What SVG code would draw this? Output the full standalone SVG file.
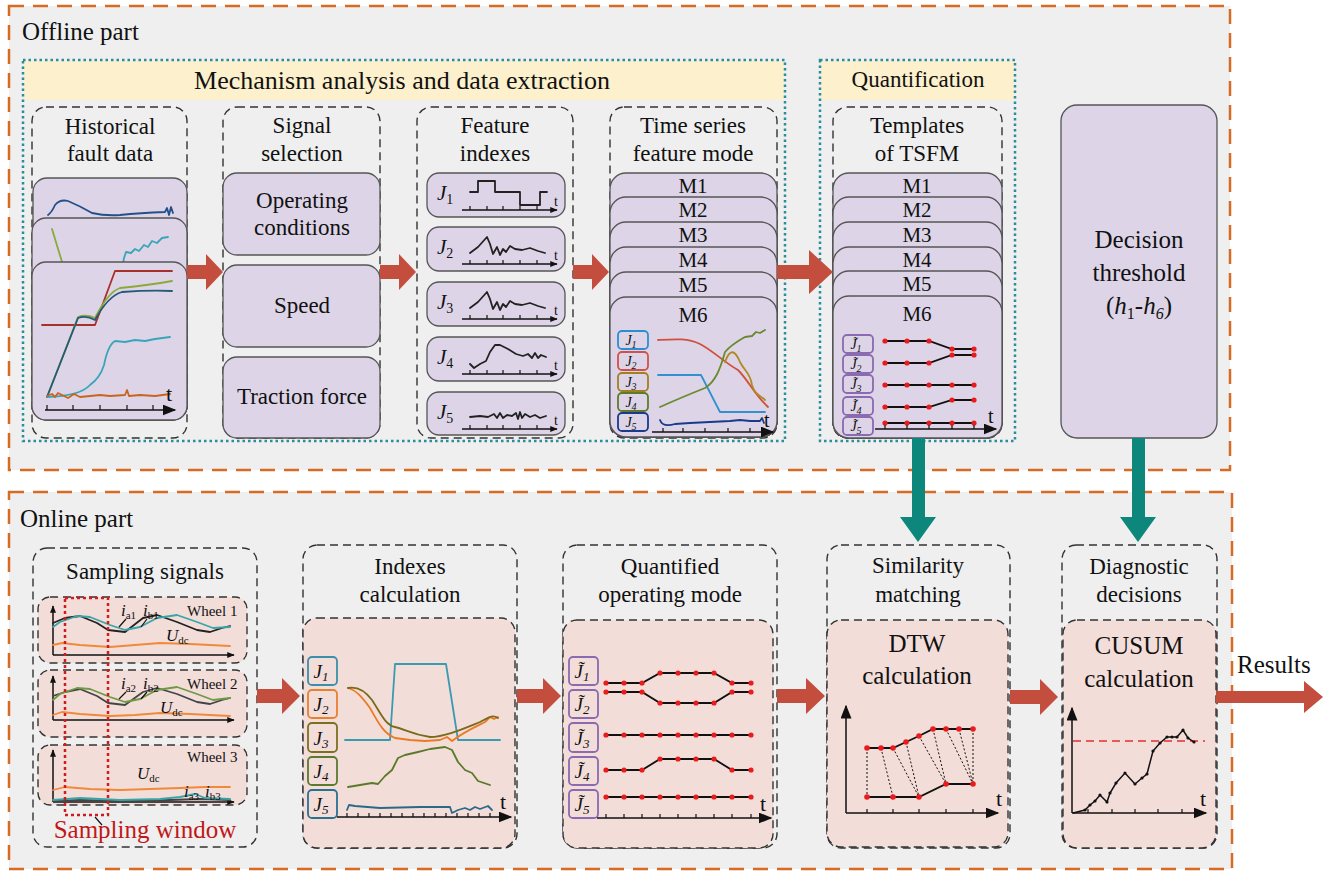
<svg xmlns="http://www.w3.org/2000/svg" width="1330" height="875" viewBox="0 0 1330 875">
<defs>
<style>
.part{fill:#efefef;stroke:#d56b25;stroke-width:2.5;stroke-dasharray:15 9}
.tdot{fill:none;stroke:#2b8c9a;stroke-width:2.5;stroke-dasharray:2.5 3}
.hdr{fill:#fdf0cc}
.dsh{fill:none;stroke:#333;stroke-width:1.4;stroke-dasharray:8 5}
.pur{fill:#ddd5e7;stroke:#555;stroke-width:1.3}
.pink{fill:#f3ddd9;stroke:#333;stroke-width:1.4;stroke-dasharray:8 5}
.tx{font-family:"Liberation Serif","Times New Roman",serif;fill:#111;text-anchor:middle}
.tl{font-family:"Liberation Serif","Times New Roman",serif;fill:#111}
.it{font-style:italic}
.arr{fill:#c44e3e}
.tarr{fill:#0d877c}
.ax{stroke:#111;stroke-width:1.5;fill:none}
.tk{stroke:#111;stroke-width:1.2;fill:none}
.dot{fill:#e81c1c}
.ln{fill:none;stroke-width:1.8;stroke-linejoin:round;stroke-linecap:round}
.blk{fill:none;stroke:#111;stroke-width:1.8}
.lb{fill:none;stroke-width:1.8}
.dl{fill:none;stroke:#111;stroke-width:1;stroke-dasharray:2 2}
</style>
<marker id="ah" viewBox="0 0 10 8" refX="9" refY="4" markerWidth="14" markerHeight="11" markerUnits="userSpaceOnUse" orient="auto"><path d="M0,0 L10,4 L0,8 z" fill="#111"/></marker>
<marker id="ahs" viewBox="0 0 10 8" refX="9" refY="4" markerWidth="8" markerHeight="6" markerUnits="userSpaceOnUse" orient="auto"><path d="M0,0 L10,4 L0,8 z" fill="#111"/></marker>
</defs>
<rect width="1330" height="875" fill="#ffffff"/>

<!-- Offline part -->
<g id="offline-part">
<rect class="part" x="9" y="6" width="1221" height="464"/>
<text class="tl" x="22" y="40" font-size="25">Offline part</text>
</g>
<g id="mechanism-group">
<rect class="hdr" x="24" y="61" width="760" height="39"/>
<rect class="tdot" x="23" y="60" width="762" height="381"/>
<text class="tx" x="402" y="89" font-size="26">Mechanism analysis and data extraction</text>
</g>
<g id="quantification-group">
<rect class="hdr" x="821" y="61" width="193" height="39"/>
<rect class="tdot" x="820" y="60" width="195" height="381"/>
<text class="tx" x="918" y="87" font-size="23">Quantification</text>
</g>

<g id="historical-fault-data">
<rect class="dsh" x="32" y="107" width="155" height="331" rx="14"/>
<text class="tx" x="110" y="134" font-size="23">Historical</text>
<text class="tx" x="110" y="161" font-size="23">fault data</text>
<rect class="pur" x="33" y="178" width="154" height="242" rx="14"/>
<path class="ln" stroke="#24508a" d="M48,215 Q52,212 55,205 Q60,199 68,201 Q80,206 92,213 Q105,216 120,215 Q140,213 165,212 L167,208 L169,215 L171,207 L173,213"/>
<rect class="pur" x="32" y="218" width="155" height="202" rx="14"/>
<path class="ln" stroke="#8aaa3a" d="M52,229 L66,275"/>
<path class="ln" stroke="#38a6b8" d="M122,270 L124,258 L126,252 L131,253 L135,249 L139,251 L144,245 L148,247 L152,241 L157,243 L162,238 L168,237"/>
<rect class="pur" x="32" y="262" width="155" height="158" rx="14"/>
<path class="ln" stroke="#a8302a" d="M42,325 L95,325 L115,271 L172,271"/>
<path class="ln" stroke="#8aaa3a" d="M47,397 L78,317 Q86,314 95,318 Q108,292 120,288 Q150,285 172,281"/>
<path class="ln" stroke="#245a78" d="M47,397 L78,318 Q86,315 95,320 Q108,296 122,292 Q150,290 172,291"/>
<path class="ln" stroke="#38a6b8" d="M47,397 Q80,396 90,385 Q100,378 104,365 Q108,345 115,341 L125,342 L135,340 L145,341 L155,339 L170,337"/>
<path class="ln" stroke="#c8641e" d="M47,396 L52,394 L55,397 L58,393 L62,395 L68,398 L74,394 L80,397 L90,396 L100,395 L110,396 L125,395 L127,390 L129,396 L140,395 L155,396 L170,394"/>
<path class="ax" d="M45,410 H175" marker-end="url(#ah)"/>
<path class="tk" d="M47,410 v-5 M73,410 v-5 M100,410 v-5 M127,410 v-5 M153,410 v-5"/>
<text class="tl" x="166" y="401" font-size="22">t</text>
</g>

<g id="signal-selection">
<rect class="dsh" x="223" y="107" width="157" height="331" rx="14"/>
<text class="tx" x="302" y="133" font-size="23">Signal</text>
<text class="tx" x="302" y="161" font-size="23">selection</text>
<rect class="pur" x="223" y="173" width="157" height="82" rx="14"/>
<text class="tx" x="302" y="208" font-size="23">Operating</text>
<text class="tx" x="302" y="235" font-size="23">conditions</text>
<rect class="pur" x="223" y="265" width="157" height="82" rx="14"/>
<text class="tx" x="302" y="313" font-size="23">Speed</text>
<rect class="pur" x="223" y="357" width="157" height="81" rx="14"/>
<text class="tx" x="302" y="404" font-size="23">Traction force</text>
</g>

<g id="feature-indexes">
<rect class="dsh" x="417" y="107" width="156" height="331" rx="14"/>
<text class="tx" x="495" y="133" font-size="23">Feature</text>
<text class="tx" x="495" y="161" font-size="23">indexes</text>
<rect class="pur" x="427" y="173" width="138" height="44" rx="12"/>
<rect class="pur" x="427" y="227" width="138" height="44" rx="12"/>
<rect class="pur" x="427" y="282" width="138" height="44" rx="12"/>
<rect class="pur" x="427" y="337" width="138" height="44" rx="12"/>
<rect class="pur" x="427" y="392" width="138" height="43" rx="12"/>
<text class="tl it" x="437" y="200" font-size="21">J<tspan font-size="14" dy="4" font-style="normal">1</tspan></text>
<text class="tl it" x="437" y="254" font-size="21">J<tspan font-size="14" dy="4" font-style="normal">2</tspan></text>
<text class="tl it" x="437" y="309" font-size="21">J<tspan font-size="14" dy="4" font-style="normal">3</tspan></text>
<text class="tl it" x="437" y="364" font-size="21">J<tspan font-size="14" dy="4" font-style="normal">4</tspan></text>
<text class="tl it" x="437" y="419" font-size="21">J<tspan font-size="14" dy="4" font-style="normal">5</tspan></text>
<path class="ax" d="M462,210 H557" marker-end="url(#ahs)"/>
<path class="ax" d="M462,264 H557" marker-end="url(#ahs)"/>
<path class="ax" d="M462,319 H557" marker-end="url(#ahs)"/>
<path class="ax" d="M462,374 H557" marker-end="url(#ahs)"/>
<path class="ax" d="M462,429 H557" marker-end="url(#ahs)"/>
<path class="tk" d="M470,210v-4M487,210v-4M503,210v-4M520,210v-4M537,210v-4 M470,264v-4M487,264v-4M503,264v-4M520,264v-4M537,264v-4 M470,319v-4M487,319v-4M503,319v-4M520,319v-4M537,319v-4 M470,374v-4M487,374v-4M503,374v-4M520,374v-4M537,374v-4 M470,429v-4M487,429v-4M503,429v-4M520,429v-4M537,429v-4"/>
<text class="tl" x="554" y="206" font-size="14">t</text>
<text class="tl" x="554" y="260" font-size="14">t</text>
<text class="tl" x="554" y="315" font-size="14">t</text>
<text class="tl" x="554" y="370" font-size="14">t</text>
<text class="tl" x="554" y="425" font-size="14">t</text>
<path class="ln" stroke="#222" stroke-width="1.4" d="M470,192 H478 V181 H495 V192 H520 V205 H540 V192 H547"/>
<path class="ln" stroke="#222" stroke-width="1.4" d="M470,253 L478,247 L487,237 L490,244 L493,254 L497,247 L500,255 L503,249 L506,252 L510,246 L515,249 L522,250 L530,248 L538,251 L545,253"/>
<path class="ln" stroke="#222" stroke-width="1.4" d="M470,308 L478,302 L487,292 L490,299 L493,309 L497,302 L500,310 L503,304 L506,307 L510,301 L515,304 L522,305 L530,303 L538,306 L545,308"/>
<path class="ln" stroke="#222" stroke-width="1.4" d="M470,364 L474,368 L480,364 L486,361 L490,352 L495,345 L500,345 L508,349 L516,354 L523,356 L528,354 L532,358 L535,353 L538,358 L541,355 L546,357"/>
<path class="ln" stroke="#222" stroke-width="1.2" d="M470,417 L480,416 L488,417 L494,414 L497,418 L500,413 L503,418 L507,415 L512,416 L516,413 L518,419 L520,412 L522,418 L525,414 L530,417 L535,415 L540,418 L546,416"/>
</g>

<g id="time-series-feature-mode">
<rect class="dsh" x="610" y="107" width="167" height="331" rx="14"/>
<text class="tx" x="693" y="133" font-size="23">Time series</text>
<text class="tx" x="693" y="161" font-size="23">feature mode</text>
<rect class="pur" x="610" y="173" width="167" height="264" rx="16"/>
<text class="tx" x="693" y="193" font-size="21">M1</text>
<rect class="pur" x="610" y="197" width="167" height="240" rx="16"/>
<text class="tx" x="693" y="217" font-size="21">M2</text>
<rect class="pur" x="610" y="222" width="167" height="215" rx="16"/>
<text class="tx" x="693" y="242" font-size="21">M3</text>
<rect class="pur" x="610" y="247" width="167" height="190" rx="16"/>
<text class="tx" x="693" y="267" font-size="21">M4</text>
<rect class="pur" x="610" y="272" width="167" height="165" rx="16"/>
<text class="tx" x="693" y="292" font-size="21">M5</text>
<rect class="pur" x="610" y="297" width="167" height="140" rx="16"/>
<text class="tx" x="693" y="322" font-size="21">M6</text>
<rect class="lb" stroke="#2a8fd0" x="618" y="331" width="30" height="18" rx="4"/>
<rect class="lb" stroke="#d0504a" x="618" y="352" width="30" height="18" rx="4"/>
<rect class="lb" stroke="#a08020" x="618" y="373" width="30" height="18" rx="4"/>
<rect class="lb" stroke="#5f7a2a" x="618" y="393" width="30" height="18" rx="4"/>
<rect class="lb" stroke="#1a3a8a" x="618" y="413" width="30" height="18" rx="4"/>
<text class="tx it" x="631" y="345" font-size="14">J<tspan font-size="10" dy="3">1</tspan></text>
<text class="tx it" x="631" y="366" font-size="14">J<tspan font-size="10" dy="3">2</tspan></text>
<text class="tx it" x="631" y="387" font-size="14">J<tspan font-size="10" dy="3">3</tspan></text>
<text class="tx it" x="631" y="407" font-size="14">J<tspan font-size="10" dy="3">4</tspan></text>
<text class="tx it" x="631" y="427" font-size="14">J<tspan font-size="10" dy="3">5</tspan></text>
<path class="ax" d="M652,432 H773" marker-end="url(#ah)"/>
<path class="tk" d="M663,432v-4M683,432v-4M705,432v-4M728,432v-4M750,432v-4"/>
<text class="tl" x="764" y="427" font-size="20">t</text>
<path class="ln" stroke="#3090d0" d="M658,375 L701,375 L720,412 L765,412"/>
<path class="ln" stroke="#d0503c" d="M658,340 C675,339 688,338 700,344 C712,350 725,363 738,370 C748,380 755,395 768,407"/>
<path class="ln" stroke="#b08a20" d="M725,362 C730,348 735,350 740,362 C745,372 750,372 752,385 C755,395 760,395 765,400"/>
<path class="ln" stroke="#6a8a30" d="M660,407 C680,398 695,392 705,388 C715,382 720,370 725,352 C732,344 740,340 745,337 L752,336 L756,332 L760,333 L765,330"/>
<path class="ln" stroke="#1a3a8a" d="M660,420 C662,426 668,426 675,424 L690,423 L710,422 L730,421 L740,420 L750,421 L760,421 L762,418 L764,423"/>
</g>

<g id="templates-of-tsfm">
<rect class="dsh" x="833" y="107" width="169" height="331" rx="14"/>
<text class="tx" x="917" y="133" font-size="23">Templates</text>
<text class="tx" x="917" y="161" font-size="23">of  TSFM</text>
<rect class="pur" x="833" y="173" width="169" height="265" rx="16"/>
<text class="tx" x="917" y="193" font-size="21">M1</text>
<rect class="pur" x="833" y="197" width="169" height="241" rx="16"/>
<text class="tx" x="917" y="217" font-size="21">M2</text>
<rect class="pur" x="833" y="222" width="169" height="216" rx="16"/>
<text class="tx" x="917" y="242" font-size="21">M3</text>
<rect class="pur" x="833" y="247" width="169" height="191" rx="16"/>
<text class="tx" x="917" y="267" font-size="21">M4</text>
<rect class="pur" x="833" y="271" width="169" height="167" rx="16"/>
<text class="tx" x="917" y="291" font-size="21">M5</text>
<rect class="pur" x="833" y="296" width="169" height="142" rx="16"/>
<text class="tx" x="917" y="321" font-size="21">M6</text>
<rect class="lb" stroke="#8a6ab0" x="843" y="335" width="30" height="18" rx="4"/>
<rect class="lb" stroke="#8a6ab0" x="843" y="355" width="30" height="18" rx="4"/>
<rect class="lb" stroke="#8a6ab0" x="843" y="375" width="30" height="18" rx="4"/>
<rect class="lb" stroke="#8a6ab0" x="843" y="397" width="30" height="18" rx="4"/>
<rect class="lb" stroke="#8a6ab0" x="843" y="417" width="30" height="18" rx="4"/>
<text class="tx it" x="856" y="349" font-size="14">J&#x303;<tspan font-size="10" dy="3">1</tspan></text>
<text class="tx it" x="856" y="369" font-size="14">J&#x303;<tspan font-size="10" dy="3">2</tspan></text>
<text class="tx it" x="856" y="389" font-size="14">J&#x303;<tspan font-size="10" dy="3">3</tspan></text>
<text class="tx it" x="856" y="411" font-size="14">J&#x303;<tspan font-size="10" dy="3">4</tspan></text>
<text class="tx it" x="856" y="431" font-size="14">J&#x303;<tspan font-size="10" dy="3">5</tspan></text>
<path class="blk" d="M885,341 L929,341 L952,349 L974,349 M885,363 L929,363 L952,355 L974,355 M885,385 H974 M885,407 L929,407 L952,400 L974,400 M885,423 H974"/>
<g class="dot">
<circle cx="885" cy="341" r="2.6"/><circle cx="907" cy="341" r="2.6"/><circle cx="929" cy="341" r="2.6"/><circle cx="952" cy="349" r="2.6"/><circle cx="974" cy="349" r="2.6"/>
<circle cx="885" cy="363" r="2.6"/><circle cx="907" cy="363" r="2.6"/><circle cx="929" cy="363" r="2.6"/><circle cx="952" cy="355" r="2.6"/><circle cx="974" cy="355" r="2.6"/>
<circle cx="885" cy="385" r="2.6"/><circle cx="907" cy="385" r="2.6"/><circle cx="929" cy="385" r="2.6"/><circle cx="952" cy="385" r="2.6"/><circle cx="974" cy="385" r="2.6"/>
<circle cx="885" cy="407" r="2.6"/><circle cx="907" cy="407" r="2.6"/><circle cx="929" cy="407" r="2.6"/><circle cx="952" cy="400" r="2.6"/><circle cx="974" cy="400" r="2.6"/>
<circle cx="885" cy="423" r="2.6"/><circle cx="907" cy="423" r="2.6"/><circle cx="929" cy="423" r="2.6"/><circle cx="952" cy="423" r="2.6"/><circle cx="974" cy="423" r="2.6"/>
</g>
<path class="ax" d="M875,429 H996" marker-end="url(#ah)"/>
<path class="tk" d="M885,429v-4M907,429v-4M929,429v-4M952,429v-4M974,429v-4"/>
<text class="tl" x="988" y="423" font-size="20">t</text>
</g>

<g id="decision-threshold">
<rect class="pur" x="1061" y="105" width="156" height="333" rx="16"/>
<text class="tx" x="1139" y="248" font-size="25">Decision</text>
<text class="tx" x="1139" y="281" font-size="25">threshold</text>
<text class="tx" x="1139" y="314" font-size="25">(<tspan font-style="italic">h</tspan><tspan font-size="16" dy="5">1</tspan><tspan dy="-5">-</tspan><tspan font-style="italic">h</tspan><tspan font-size="16" font-style="italic" dy="5">6</tspan><tspan dy="-5">)</tspan></text>
</g>

<!-- Online part -->
<g id="online-part">
<rect class="part" x="9" y="492" width="1223" height="377"/>
<text class="tl" x="20" y="527" font-size="25">Online part</text>
</g>

<g id="sampling-signals">
<rect class="dsh" x="33" y="548" width="224" height="299" rx="14"/>
<text class="tx" x="145" y="579" font-size="23">Sampling signals</text>
<rect class="pink" x="38" y="597" width="209" height="66" rx="12"/>
<rect class="pink" x="38" y="670" width="209" height="67" rx="12"/>
<rect class="pink" x="38" y="745" width="209" height="60" rx="12"/>
<text class="tl" x="187" y="616" font-size="15">Wheel 1</text>
<text class="tl" x="187" y="689" font-size="15">Wheel 2</text>
<text class="tl" x="187" y="762" font-size="15">Wheel 3</text>
<path class="ax" d="M53,655 V606" marker-end="url(#ahs)"/>
<path class="ax" d="M53,655 H234" marker-end="url(#ahs)"/>
<path class="ax" d="M53,720 V676" marker-end="url(#ahs)"/>
<path class="ax" d="M53,720 H234" marker-end="url(#ahs)"/>
<path class="ax" d="M53,802 V750" marker-end="url(#ahs)"/>
<path class="ax" d="M53,802 H234" marker-end="url(#ahs)"/>
<polyline class="ln" stroke-width="1.4" stroke="#f08a3a" points="53,645 62,643 80,645 110,647 135,645 160,643 190,644 210,645 230,646"/>
<polyline class="ln" stroke-width="1.4" stroke="#222" points="53,623 65,618 80,616 97,623 108,630 125,632 143,618 157,615 177,622 197,630 210,632 222,628 230,626"/>
<polyline class="ln" stroke-width="1.4" stroke="#3aa5a8" points="53,627 60,622 77,616 90,617 110,625 125,630 140,627 157,618 177,615 197,622 213,628 230,627"/>
<text class="tl it" x="121" y="616" font-size="17" fill="#2a9a9a">i<tspan font-size="11" dy="3" font-style="normal">a1</tspan></text>
<text class="tl it" x="143" y="616" font-size="17" fill="#3a70b0">i<tspan font-size="11" dy="3" font-style="normal">b1</tspan></text>
<text class="tl it" x="166" y="641" font-size="17" fill="#e07a30">U<tspan font-size="11" dy="3" font-style="normal">dc</tspan></text>
<path class="tk" d="M126,619 L119,627 M147,619 L141,627"/>
<polyline class="ln" stroke-width="1.4" stroke="#f08a3a" points="53,715 62,712 80,714 110,716 135,715 160,713 190,714 210,715 230,716"/>
<polyline class="ln" stroke-width="1.4" stroke="#444" points="53,696 65,692 80,689 97,696 108,703 125,705 143,692 157,688 177,694 197,702 210,704 222,700 230,698"/>
<polyline class="ln" stroke-width="1.4" stroke="#6f9a45" points="53,700 60,694 77,688 90,689 110,697 125,702 140,699 157,690 177,687 197,694 213,700 230,698"/>
<text class="tl it" x="121" y="689" font-size="17" fill="#e0a040">i<tspan font-size="11" dy="3" font-style="normal">a2</tspan></text>
<text class="tl it" x="143" y="689" font-size="17" fill="#333">i<tspan font-size="11" dy="3" font-style="normal">b2</tspan></text>
<text class="tl it" x="160" y="713" font-size="17" fill="#7a9a50">U<tspan font-size="11" dy="3" font-style="normal">dc</tspan></text>
<path class="tk" d="M126,692 L119,699 M147,692 L141,699"/>
<polyline class="ln" stroke-width="1.4" stroke="#f08a3a" points="53,790 65,787 90,789 120,790 150,789 180,788 205,787 230,787"/>
<polyline class="ln" stroke-width="1.4" stroke="#444" points="53,801 80,800 120,801 170,800 200,799 230,800"/>
<polyline class="ln" stroke-width="1.4" stroke="#3aa5a8" points="53,800 80,798 120,800 160,799 180,797 195,794 205,798 230,799"/>
<text class="tl it" x="137" y="779" font-size="17" fill="#e07a30">U<tspan font-size="11" dy="3" font-style="normal">dc</tspan></text>
<text class="tl it" x="184" y="797" font-size="17" fill="#2a9a9a">i<tspan font-size="11" dy="3" font-style="normal">a3</tspan></text>
<text class="tl it" x="205" y="797" font-size="17" fill="#b06030">i<tspan font-size="11" dy="3" font-style="normal">b3</tspan></text>
<rect x="65" y="598" width="43" height="217" fill="none" stroke="#d01c1c" stroke-width="2.5" stroke-dasharray="3 3"/>
<path class="tk" d="M95,817 L102,825"/>
<text class="tx" x="145" y="838" font-size="25" style="fill:#c01818">Sampling window</text>
</g>

<g id="indexes-calculation">
<rect class="dsh" x="303" y="545" width="214" height="303" rx="14"/>
<text class="tx" x="410" y="574" font-size="23">Indexes</text>
<text class="tx" x="410" y="602" font-size="23">calculation</text>
<rect class="pink" x="303" y="618" width="212" height="230" rx="14"/>
<rect class="lb" stroke="#3a90a8" x="308" y="657" width="29" height="28" rx="4"/>
<rect class="lb" stroke="#e88030" x="308" y="690" width="29" height="28" rx="4"/>
<rect class="lb" stroke="#7a7020" x="308" y="723" width="29" height="29" rx="4"/>
<rect class="lb" stroke="#5a7a30" x="308" y="757" width="29" height="28" rx="4"/>
<rect class="lb" stroke="#2a7090" x="308" y="790" width="29" height="28" rx="4"/>
<text class="tx it" x="321" y="678" font-size="19">J<tspan font-size="13" dy="3">1</tspan></text>
<text class="tx it" x="321" y="711" font-size="19">J<tspan font-size="13" dy="3">2</tspan></text>
<text class="tx it" x="321" y="745" font-size="19">J<tspan font-size="13" dy="3">3</tspan></text>
<text class="tx it" x="321" y="778" font-size="19">J<tspan font-size="13" dy="3">4</tspan></text>
<text class="tx it" x="321" y="811" font-size="19">J<tspan font-size="13" dy="3">5</tspan></text>
<path class="ax" d="M337,817 H511" marker-end="url(#ah)"/>
<path class="tk" d="M347,817v-4M358,817v-4M369,817v-4M380,817v-4M391,817v-4M402,817v-4M413,817v-4M424,817v-4M435,817v-4M446,817v-4M457,817v-4M468,817v-4M479,817v-4M490,817v-4"/>
<text class="tl" x="500" y="809" font-size="22">t</text>
<path class="ln" stroke="#3a9ab0" d="M345,740 L390,740 L395,664 L446,664 L458,740 L500,740"/>
<path class="ln" stroke="#ec7a22" d="M348,688 C356,690 362,697 370,708 C378,722 383,733 395,738 L410,740 L425,741 L440,740 L447,737 L452,741 C462,733 475,727 485,722 L490,717 L494,719 L498,717"/>
<path class="ln" stroke="#7a6a1a" d="M348,688 C358,686 366,692 372,700 C380,712 385,725 395,727 C405,729 410,734 430,737 C445,737 465,728 480,722 C488,718 492,714 498,718"/>
<path class="ln" stroke="#5a7a2a" d="M348,787 L360,785 L372,783 L378,784 L385,776 L392,770 L398,758 L405,755 L418,752 L430,749 L445,747 L452,750 L458,762 L465,770 L472,773 L478,781 L490,785"/>
<path class="ln" stroke="#2a6a88" d="M347,810 L349,805 L355,806 L380,808 L420,807 L450,807 L452,813 L458,810 L465,808 L470,810 L475,807 L480,809 L488,806 L492,810"/>
</g>

<g id="quantified-operating-mode">
<rect class="dsh" x="563" y="545" width="214" height="303" rx="14"/>
<text class="tx" x="670" y="574" font-size="23">Quantified</text>
<text class="tx" x="670" y="602" font-size="23">operating mode</text>
<rect class="pink" x="563" y="620" width="210" height="228" rx="14"/>
<rect class="lb" stroke="#8a6ab0" x="569" y="657" width="29" height="28" rx="4"/>
<rect class="lb" stroke="#8a6ab0" x="569" y="690" width="29" height="28" rx="4"/>
<rect class="lb" stroke="#8a6ab0" x="569" y="723" width="29" height="29" rx="4"/>
<rect class="lb" stroke="#8a6ab0" x="569" y="757" width="29" height="28" rx="4"/>
<rect class="lb" stroke="#8a6ab0" x="569" y="790" width="29" height="28" rx="4"/>
<text class="tx it" x="582" y="678" font-size="19">J&#x303;<tspan font-size="13" dy="3">1</tspan></text>
<text class="tx it" x="582" y="711" font-size="19">J&#x303;<tspan font-size="13" dy="3">2</tspan></text>
<text class="tx it" x="582" y="745" font-size="19">J&#x303;<tspan font-size="13" dy="3">3</tspan></text>
<text class="tx it" x="582" y="778" font-size="19">J&#x303;<tspan font-size="13" dy="3">4</tspan></text>
<text class="tx it" x="582" y="811" font-size="19">J&#x303;<tspan font-size="13" dy="3">5</tspan></text>
<path class="blk" d="M606,683 L642,683 L660,673 L714,673 L732,683 L751,683 M606,692 L642,692 L660,703 L714,703 L732,692 L751,692 M606,735 H751 M606,770 L642,770 L660,759 L714,759 L732,770 L751,770 M606,797 H751"/>
<g class="dot">
<circle cx="606" cy="683" r="2.6"/><circle cx="624" cy="683" r="2.6"/><circle cx="642" cy="683" r="2.6"/><circle cx="660" cy="673" r="2.6"/><circle cx="678" cy="673" r="2.6"/><circle cx="696" cy="673" r="2.6"/><circle cx="714" cy="673" r="2.6"/><circle cx="732" cy="683" r="2.6"/><circle cx="751" cy="683" r="2.6"/>
<circle cx="606" cy="692" r="2.6"/><circle cx="624" cy="692" r="2.6"/><circle cx="642" cy="692" r="2.6"/><circle cx="660" cy="703" r="2.6"/><circle cx="678" cy="703" r="2.6"/><circle cx="696" cy="703" r="2.6"/><circle cx="714" cy="703" r="2.6"/><circle cx="732" cy="692" r="2.6"/><circle cx="751" cy="692" r="2.6"/>
<circle cx="606" cy="735" r="2.6"/><circle cx="624" cy="735" r="2.6"/><circle cx="642" cy="735" r="2.6"/><circle cx="660" cy="735" r="2.6"/><circle cx="678" cy="735" r="2.6"/><circle cx="696" cy="735" r="2.6"/><circle cx="714" cy="735" r="2.6"/><circle cx="732" cy="735" r="2.6"/><circle cx="751" cy="735" r="2.6"/>
<circle cx="606" cy="770" r="2.6"/><circle cx="624" cy="770" r="2.6"/><circle cx="642" cy="770" r="2.6"/><circle cx="660" cy="759" r="2.6"/><circle cx="678" cy="759" r="2.6"/><circle cx="696" cy="759" r="2.6"/><circle cx="714" cy="759" r="2.6"/><circle cx="732" cy="770" r="2.6"/><circle cx="751" cy="770" r="2.6"/>
<circle cx="606" cy="797" r="2.6"/><circle cx="624" cy="797" r="2.6"/><circle cx="642" cy="797" r="2.6"/><circle cx="660" cy="797" r="2.6"/><circle cx="678" cy="797" r="2.6"/><circle cx="696" cy="797" r="2.6"/><circle cx="714" cy="797" r="2.6"/><circle cx="732" cy="797" r="2.6"/><circle cx="751" cy="797" r="2.6"/>
</g>
<path class="ax" d="M597,818 H771" marker-end="url(#ah)"/>
<path class="tk" d="M606,818v-4M624,818v-4M642,818v-4M660,818v-4M678,818v-4M696,818v-4M714,818v-4M732,818v-4M751,818v-4"/>
<text class="tl" x="760" y="811" font-size="22">t</text>
</g>

<g id="similarity-matching">
<rect class="dsh" x="827" y="545" width="183" height="303" rx="14"/>
<text class="tx" x="918" y="573" font-size="23">Similarity</text>
<text class="tx" x="918" y="602" font-size="23">matching</text>
<rect class="pink" x="827" y="620" width="181" height="227" rx="14"/>
<text class="tx" x="917" y="652" font-size="25">DTW</text>
<text class="tx" x="917" y="684" font-size="25">calculation</text>
<path class="ax" d="M846,813 V706" marker-end="url(#ah)"/>
<path class="ax" d="M846,813 H998" marker-end="url(#ah)"/>
<path class="tk" d="M867,813v-4M893,813v-4M919,813v-4M946,813v-4M973,813v-4"/>
<text class="tx" x="999" y="806" font-size="22">t</text>
<path class="dl" d="M867,748 L867,797 M881,748 L893,797 M893,748 L919,797 M906,742 L919,797 M919,736 L946,784 M933,729 L946,784 M946,729 L973,784 M959,729 L973,784 M973,729 L973,784"/>
<polyline class="blk" points="867,748 881,748 893,748 906,742 919,736 933,729 946,729 959,729 973,729"/>
<polyline class="blk" points="867,797 893,797 919,797 946,784 973,784"/>
<g class="dot">
<circle cx="867" cy="748" r="2.8"/><circle cx="881" cy="748" r="2.8"/><circle cx="893" cy="748" r="2.8"/><circle cx="906" cy="742" r="2.8"/><circle cx="919" cy="736" r="2.8"/><circle cx="933" cy="729" r="2.8"/><circle cx="946" cy="729" r="2.8"/><circle cx="959" cy="729" r="2.8"/><circle cx="973" cy="729" r="2.8"/>
<circle cx="867" cy="797" r="2.8"/><circle cx="893" cy="797" r="2.8"/><circle cx="919" cy="797" r="2.8"/><circle cx="946" cy="784" r="2.8"/><circle cx="973" cy="784" r="2.8"/>
</g>
</g>

<g id="diagnostic-decisions">
<rect class="dsh" x="1062" y="545" width="155" height="303" rx="14"/>
<text class="tx" x="1139" y="574" font-size="23">Diagnostic</text>
<text class="tx" x="1139" y="602" font-size="23">decisions</text>
<rect class="pink" x="1063" y="620" width="153" height="228" rx="14"/>
<text class="tx" x="1139" y="654" font-size="25">CUSUM</text>
<text class="tx" x="1139" y="687" font-size="25">calculation</text>
<path class="ax" d="M1072,813 V708" marker-end="url(#ah)"/>
<path class="ax" d="M1072,813 H1206" marker-end="url(#ah)"/>
<path class="tk" d="M1088,813v-4M1112,813v-4M1135,813v-4M1158,813v-4M1182,813v-4"/>
<text class="tx" x="1203" y="806" font-size="22">t</text>
<path d="M1073,741 H1205" fill="none" stroke="#e03030" stroke-width="1.5" stroke-dasharray="8 5"/>
<polyline fill="none" stroke="#111" stroke-width="1.5" points="1073,813 1085,810 1090,805 1095,801 1100,795 1107,802 1110,793 1116,783 1125,773 1135,784 1142,778 1147,774 1153,751 1160,743 1167,737 1172,737 1177,737 1183,730 1188,738 1194,742"/>
<g fill="#111">
<circle cx="1085" cy="810" r="1.6"/><circle cx="1090" cy="805" r="1.6"/><circle cx="1095" cy="801" r="1.6"/><circle cx="1100" cy="795" r="1.6"/><circle cx="1107" cy="802" r="1.6"/><circle cx="1110" cy="793" r="1.6"/><circle cx="1116" cy="783" r="1.6"/><circle cx="1125" cy="773" r="1.6"/><circle cx="1135" cy="784" r="1.6"/><circle cx="1142" cy="778" r="1.6"/><circle cx="1147" cy="774" r="1.6"/><circle cx="1153" cy="751" r="1.6"/><circle cx="1160" cy="743" r="1.6"/><circle cx="1167" cy="737" r="1.6"/><circle cx="1172" cy="737" r="1.6"/><circle cx="1177" cy="737" r="1.6"/><circle cx="1183" cy="730" r="1.6"/><circle cx="1188" cy="738" r="1.6"/><circle cx="1194" cy="742" r="1.6"/>
</g>
</g>

<g id="results-label">
<text class="tl" x="1237" y="673" font-size="25">Results</text>
</g>

<g id="connectors">
<polygon class="arr" points="187,265 206,265 206,254 223,272 206,290 206,279 187,279"/>
<polygon class="arr" points="380,265 399,265 399,254 416,272 399,290 399,279 380,279"/>
<polygon class="arr" points="573,265 592,265 592,254 609,272 592,290 592,279 573,279"/>
<polygon class="arr" points="777,265 809,265 809,250 833,272 809,294 809,279 777,279"/>
<polygon class="arr" points="257,689 282,689 282,678 300,696 282,714 282,703 257,703"/>
<polygon class="arr" points="517,689 543,689 543,678 561,696 543,714 543,703 517,703"/>
<polygon class="arr" points="777,689 806,689 806,678 825,696 806,714 806,703 777,703"/>
<polygon class="arr" points="1010,690 1040,690 1040,679 1058,697 1040,715 1040,704 1010,704"/>
<polygon class="arr" points="1216,691 1304,691 1304,681 1323,697 1304,713 1304,703 1216,703"/>
<polygon class="tarr" points="912,438 925,438 925,517 936,517 918,542 900,517 912,517"/>
<polygon class="tarr" points="1132,438 1145,438 1145,517 1156,517 1138,542 1120,517 1132,517"/>
</g>
</svg>
